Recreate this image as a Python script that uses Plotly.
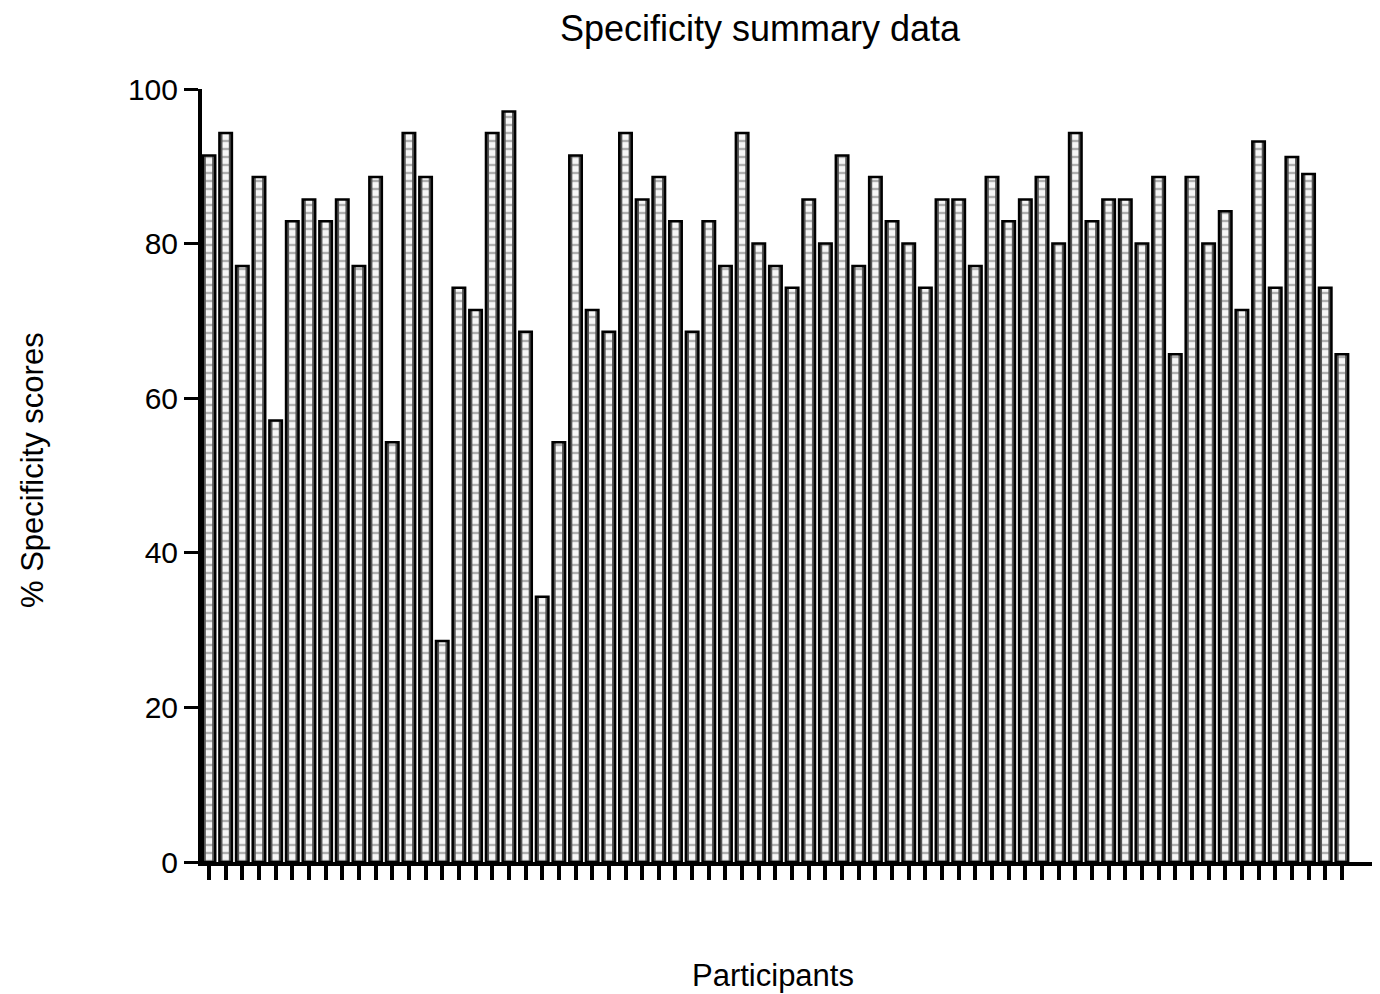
import plotly.graph_objects as go

participants = list(range(1, 70))
specificity = [
    91.4, 94.3, 77.1, 88.6, 57.1, 82.9, 85.7, 82.9, 85.7, 77.1,
    88.6, 54.3, 94.3, 88.6, 28.6, 74.3, 71.4, 94.3, 97.1, 68.6,
    34.3, 54.3, 91.4, 71.4, 68.6, 94.3, 85.7, 88.6, 82.9, 68.6,
    82.9, 77.1, 94.3, 80.0, 77.1, 74.3, 85.7, 80.0, 91.4, 77.1,
    88.6, 82.9, 80.0, 74.3, 85.7, 85.7, 77.1, 88.6, 82.9, 85.7,
    88.6, 80.0, 94.3, 82.9, 85.7, 85.7, 80.0, 88.6, 65.7, 88.6,
    80.0, 84.2, 71.4, 93.2, 74.3, 91.2, 89.0, 74.3, 65.7,
]
y_ticks = [0, 20, 40, 60, 80, 100]

FONT = "Liberation Sans, Arial, sans-serif"
W, H = 1380, 986
L, R, T, B = 194, 0, 81, 132

fig = go.Figure()
# dark body of each bar
fig.add_trace(go.Bar(
    x=participants, y=specificity, width=0.75,
    marker=dict(color="#555555", line=dict(width=0)),
    showlegend=False, hoverinfo="skip",
))
# light dashed centre strip
fig.add_trace(go.Bar(
    x=participants, y=specificity, width=0.38,
    marker=dict(
        color="white", line=dict(width=0),
        pattern=dict(shape="-", fgcolor="#6a6a6a", bgcolor="#f6f6f6",
                     size=8, solidity=0.3),
    ),
    showlegend=False, hoverinfo="skip",
))
# black outline
fig.add_trace(go.Bar(
    x=participants, y=specificity, width=0.75,
    marker=dict(color="rgba(0,0,0,0)", line=dict(color="black", width=2.5)),
    showlegend=False,
))

plot_w = W - L - R
plot_h = H - T - B
fig.update_layout(
    width=W, height=H, barmode="overlay",
    paper_bgcolor="white", plot_bgcolor="white",
    margin=dict(l=L, r=R, t=T, b=B),
    font=dict(family=FONT, color="black", size=30),
    title=dict(text="Specificity summary data", x=752 / W, xanchor="center",
               y=1 - 20 / H, yanchor="middle", font=dict(size=36, family=FONT)),
    annotations=[
        dict(text="Participants", xref="paper", yref="paper",
             x=(765 - L) / plot_w, y=-(967 - (T + plot_h)) / plot_h,
             xanchor="center", yanchor="middle", showarrow=False,
             font=dict(size=31, family=FONT)),
        dict(text="% Specificity scores", xref="paper", yref="paper",
             x=-(L - 24) / plot_w, y=((T + plot_h) - 462) / plot_h,
             xanchor="center", yanchor="middle", showarrow=False, textangle=-90,
             font=dict(size=31, family=FONT)),
    ],
)
fig.update_xaxes(
    range=[0.58, 0.58 + plot_w / 16.66], showgrid=False, zeroline=False,
    showline=True, linecolor="black", linewidth=4,
    ticks="outside", ticklen=14, tickwidth=3.5, tickcolor="black",
    tickvals=participants, showticklabels=False,
)
fig.update_yaxes(
    range=[0, 100], showgrid=False, zeroline=False,
    showline=True, linecolor="black", linewidth=4,
    ticks="outside", ticklen=14, tickwidth=3, tickcolor="black",
    tickvals=y_ticks, tickfont=dict(size=30),
)

fig.write_html("out.html")
